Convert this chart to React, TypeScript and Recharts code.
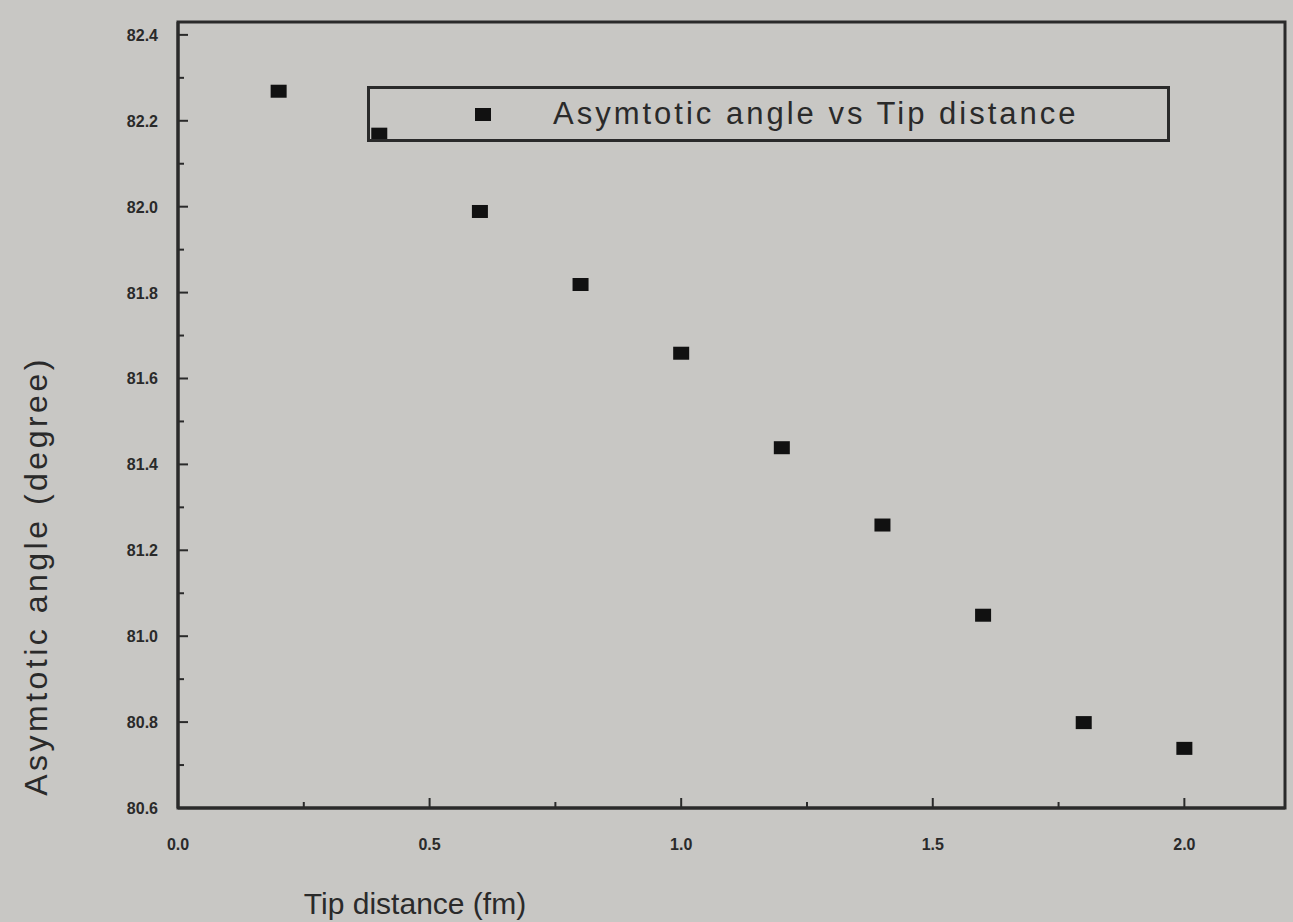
import { ScatterChart, Scatter, XAxis, YAxis, Label, ReferenceArea } from "recharts";

// tip distance (fm) and asymptotic angle (degree)
const tipDistance = [0.2, 0.4, 0.6, 0.8, 1.0, 1.2, 1.4, 1.6, 1.8, 2.0];
const asymAngle = [82.27, 82.17, 81.99, 81.82, 81.66, 81.44, 81.26, 81.05, 80.8, 80.74];

const xTicks = [0, 0.25, 0.5, 0.75, 1.0, 1.25, 1.5, 1.75, 2.0];
const xLabelled = [0, 0.5, 1.0, 1.5, 2.0];
const yTicks = [80.6, 80.7, 80.8, 80.9, 81.0, 81.1, 81.2, 81.3, 81.4, 81.5, 81.6, 81.7, 81.8, 81.9, 82.0, 82.1, 82.2, 82.3, 82.4];
const yLabelled = [80.6, 80.8, 81.0, 81.2, 81.4, 81.6, 81.8, 82.0, 82.2, 82.4];

const seriesName = "Asymtotic angle vs Tip distance";
const ink = "#2a2a2a";
const font = "Liberation Sans, Arial, sans-serif";

const data = tipDistance.map((x, i) => ({ x, y: asymAngle[i] }));

const isIn = (list: number[], v: number) => list.some((t) => Math.abs(t - v) < 1e-6);

// ticks point into the plot, only every other one gets a label
const XTick = ({ x, y, payload }: any) => {
    const major = isIn(xLabelled, payload.value);
    return (
        <g>
            <line x1={x} x2={x} y1={y} y2={y - (major ? 10 : 6)} stroke={ink} strokeWidth={2} />
            {major && (
                <text x={x} y={y + 42} textAnchor="middle" fill={ink} fontSize={16} fontWeight="bold" fontFamily={font}>
                    {payload.value.toFixed(1)}
                </text>
            )}
        </g>
    );
};

const YTick = ({ x, y, payload }: any) => {
    const major = isIn(yLabelled, payload.value);
    return (
        <g>
            <line x1={x} x2={x + (major ? 10 : 6)} y1={y} y2={y} stroke={ink} strokeWidth={2} />
            {major && (
                <text x={x - 20} y={y + 6} textAnchor="end" fill={ink} fontSize={16} fontWeight="bold" fontFamily={font}>
                    {payload.value.toFixed(1)}
                </text>
            )}
        </g>
    );
};

const Square = ({ cx, cy }: any) => <rect x={cx - 8} y={cy - 6} width={16} height={13} fill="#111" />;

const XTitle = () => (
    <text x={415} y={914} textAnchor="middle" fill={ink} fontSize={30} fontFamily={font}>
        Tip distance (fm)
    </text>
);

const YTitle = () => (
    <text transform="translate(47,576) rotate(-90)" textAnchor="middle" fill={ink} fontSize={32} letterSpacing={3.5} fontFamily={font}>
        Asymtotic angle (degree)
    </text>
);

export default function App() {
    return (
        <div style={{ position: "absolute", left: 0, top: 0, width: 1293, height: 922, background: "#c8c7c4", fontFamily: font }}>
            <ScatterChart width={1293} height={922} margin={{ top: 22, right: 8, left: 0, bottom: 0 }}>
                <XAxis
                    type="number"
                    dataKey="x"
                    domain={[0, 2.2]}
                    ticks={xTicks}
                    tick={<XTick />}
                    tickLine={false}
                    tickSize={0}
                    tickMargin={0}
                    axisLine={{ stroke: ink, strokeWidth: 3 }}
                    height={114}
                    allowDataOverflow
                >
                    <Label content={<XTitle />} />
                </XAxis>
                <YAxis
                    type="number"
                    dataKey="y"
                    domain={[80.6, 82.43]}
                    ticks={yTicks}
                    tick={<YTick />}
                    tickLine={false}
                    tickSize={0}
                    tickMargin={0}
                    axisLine={{ stroke: ink, strokeWidth: 3 }}
                    width={178}
                    allowDataOverflow
                >
                    <Label content={<YTitle />} />
                </YAxis>
                <ReferenceArea x1={0} x2={2.2} y1={80.6} y2={82.43} fill="none" stroke={ink} strokeWidth={3} />
                <Scatter name={seriesName} data={data} fill="#111" shape={<Square />} isAnimationActive={false} />
            </ScatterChart>
            <div
                style={{
                    position: "absolute",
                    left: 367,
                    top: 86,
                    width: 803,
                    height: 56,
                    border: `3px solid ${ink}`,
                    boxSizing: "border-box",
                    display: "flex",
                    alignItems: "center",
                    fontSize: 31,
                    letterSpacing: 3,
                    color: ink,
                    whiteSpace: "nowrap",
                }}
            >
                <span style={{ display: "inline-block", width: 16, height: 13, background: "#111", marginLeft: 105 }} />
                <span style={{ marginLeft: 62 }}>{seriesName}</span>
            </div>
        </div>
    );
}
